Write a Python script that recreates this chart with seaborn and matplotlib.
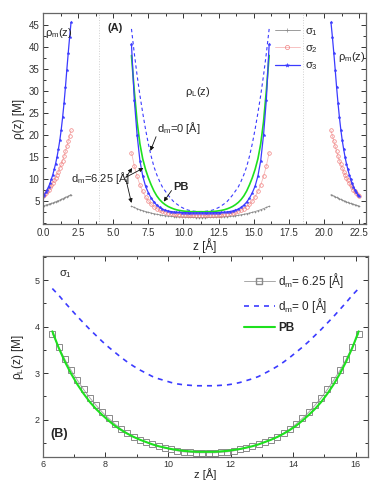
import pandas as pd
import matplotlib
matplotlib.use('Agg')
from matplotlib import pyplot as plt
from matplotlib.lines import Line2D
from matplotlib.ticker import MultipleLocator, FormatStrFormatter
import seaborn as sns

# --- data ---
# panel A: counterion densities near the walls (rho_m) and in the slit (rho_L)
z_left = [0.0, 0.1, 0.2, 0.3, 0.4, 0.5, 0.6, 0.7, 0.8, 0.9, 1.0,
          1.1, 1.2, 1.3, 1.4, 1.5, 1.6, 1.7, 1.8, 1.9, 2.0]
z_right = [20.5, 20.6, 20.7, 20.8, 20.9, 21.0, 21.1, 21.2, 21.3, 21.4, 21.5,
           21.6, 21.7, 21.8, 21.9, 22.0, 22.1, 22.2, 22.3, 22.4, 22.5]
z_slit = [6.3, 6.5, 6.7, 6.9, 7.1, 7.3, 7.5, 7.7, 7.9, 8.1,
          8.3, 8.5, 8.7, 8.9, 9.1, 9.3, 9.5, 9.7, 9.9, 10.1,
          10.3, 10.5, 10.7, 10.9, 11.1, 11.3, 11.5, 11.7, 11.9, 12.1,
          12.3, 12.5, 12.7, 12.9, 13.1, 13.3, 13.5, 13.7, 13.9, 14.1,
          14.3, 14.5, 14.7, 14.9, 15.1, 15.3, 15.5, 15.7, 15.9, 16.1]

sigma1_left = [3.9, 4.0, 4.1, 4.2, 4.3, 4.4, 4.5, 4.6, 4.7, 4.85, 5.0,
               5.1, 5.25, 5.4, 5.55, 5.7, 5.85, 6.0, 6.15, 6.3, 6.5]
sigma1_right = [6.5, 6.3, 6.15, 6.0, 5.85, 5.7, 5.55, 5.4, 5.25, 5.1, 5.0,
                4.85, 4.7, 4.6, 4.5, 4.4, 4.3, 4.2, 4.1, 4.0, 3.9]
sigma2_left = [6.1, 6.4, 6.8, 7.2, 7.6, 8.1, 8.6, 9.1, 9.7, 10.3, 11.0,
               11.7, 12.5, 13.3, 14.2, 15.2, 16.3, 17.4, 18.6, 19.8, 21.0]
sigma2_right = [21.0, 19.8, 18.6, 17.4, 16.3, 15.2, 14.2, 13.3, 12.5, 11.7, 11.0,
                10.3, 9.7, 9.1, 8.6, 8.1, 7.6, 7.2, 6.8, 6.4, 6.1]
sigma3_left = [6.1, 6.5, 7.0, 7.6, 8.3, 9.0, 10.0, 11.0, 12.2, 13.5, 15.0,
               16.8, 18.8, 21.2, 24.0, 27.2, 30.8, 34.8, 38.6, 42.2, 45.5]
sigma3_right = [45.5, 42.2, 38.6, 34.8, 30.8, 27.2, 24.0, 21.2, 18.8, 16.8, 15.0,
                13.5, 12.2, 11.0, 10.0, 9.0, 8.3, 7.6, 7.0, 6.5, 6.1]

# sigma_1 with d_m = 6.25 (also the squares of panel B)
sigma1_slit = [3.85, 3.57, 3.30, 3.06, 2.85, 2.65, 2.47, 2.31, 2.16, 2.03,
               1.91, 1.80, 1.71, 1.63, 1.57, 1.52, 1.47, 1.43, 1.39, 1.36,
               1.33, 1.31, 1.30, 1.29, 1.29, 1.29, 1.29, 1.30, 1.31, 1.33,
               1.36, 1.39, 1.43, 1.47, 1.52, 1.57, 1.63, 1.71, 1.80, 1.91,
               2.03, 2.16, 2.31, 2.47, 2.65, 2.85, 3.06, 3.30, 3.57, 3.85]
sigma2_slit = [16.0, 13.0, 10.6, 8.7, 7.2, 6.0, 5.0, 4.3, 3.75, 3.3,
               2.95, 2.7, 2.5, 2.35, 2.22, 2.12, 2.04, 1.97, 1.92, 1.88,
               1.85, 1.83, 1.81, 1.8, 1.8, 1.8, 1.8, 1.81, 1.83, 1.85,
               1.88, 1.92, 1.97, 2.04, 2.12, 2.22, 2.35, 2.5, 2.7, 2.95,
               3.3, 3.75, 4.3, 5.0, 6.0, 7.2, 8.7, 10.6, 13.0, 16.0]
sigma3_slit = [40.5, 28.0, 20.0, 14.2, 10.7, 8.4, 6.9, 5.7, 4.8, 4.1,
               3.6, 3.2, 2.95, 2.78, 2.65, 2.56, 2.5, 2.45, 2.42, 2.4,
               2.38, 2.36, 2.35, 2.35, 2.35, 2.35, 2.35, 2.35, 2.36, 2.38,
               2.4, 2.42, 2.45, 2.5, 2.56, 2.65, 2.78, 2.95, 3.2, 3.6,
               4.1, 4.8, 5.7, 6.9, 8.4, 10.7, 14.2, 20.0, 28.0, 40.5]
dm0_sigma3_slit = [44.0, 38.5, 33.5, 29.0, 25.0, 21.3, 18.0, 15.2, 12.8, 11.0,
                   9.5, 8.2, 7.3, 6.4, 5.6, 4.9, 4.4, 3.95, 3.55, 3.25,
                   3.0, 2.85, 2.75, 2.68, 2.65, 2.65, 2.68, 2.75, 2.85, 3.0,
                   3.25, 3.55, 3.95, 4.4, 4.9, 5.6, 6.4, 7.3, 8.2, 9.5,
                   11.0, 12.8, 15.2, 18.0, 21.3, 25.0, 29.0, 33.5, 38.5, 44.0]
pb_sigma3_slit = [38.0, 30.0, 23.0, 18.0, 14.6, 12.2, 10.3, 8.7, 7.3, 6.2,
                  5.35, 4.7, 4.2, 3.8, 3.5, 3.25, 3.05, 2.9, 2.8, 2.72,
                  2.66, 2.62, 2.6, 2.6, 2.6, 2.6, 2.6, 2.6, 2.62, 2.66,
                  2.72, 2.8, 2.9, 3.05, 3.25, 3.5, 3.8, 4.2, 4.7, 5.35,
                  6.2, 7.3, 8.7, 10.3, 12.2, 14.6, 18.0, 23.0, 30.0, 38.0]

# panel B: sigma_1 only
dm0_sigma1_slit = [4.82, 4.68, 4.52, 4.37, 4.22, 4.08, 3.94, 3.81, 3.68, 3.56,
                   3.45, 3.34, 3.24, 3.15, 3.07, 3.0, 2.93, 2.88, 2.84, 2.80,
                   2.77, 2.75, 2.74, 2.73, 2.73, 2.73, 2.73, 2.74, 2.75, 2.77,
                   2.80, 2.84, 2.88, 2.93, 3.0, 3.07, 3.15, 3.24, 3.34, 3.45,
                   3.56, 3.68, 3.81, 3.94, 4.08, 4.22, 4.37, 4.52, 4.68, 4.82]
pb_sigma1_slit = [3.9, 3.55, 3.25, 2.99, 2.76, 2.56, 2.38, 2.23, 2.10, 1.98,
                  1.87, 1.78, 1.70, 1.63, 1.57, 1.52, 1.47, 1.43, 1.40, 1.37,
                  1.35, 1.33, 1.32, 1.31, 1.31, 1.31, 1.31, 1.32, 1.33, 1.35,
                  1.37, 1.40, 1.43, 1.47, 1.52, 1.57, 1.63, 1.70, 1.78, 1.87,
                  1.98, 2.10, 2.23, 2.38, 2.56, 2.76, 2.99, 3.25, 3.55, 3.9]

wall_positions = [4.0, 18.5]

GRAY = '#8c8c8c'
PINK = '#f08080'
BLUE = '#3b3bff'
GREEN = '#1ee01e'

sns.set_style('ticks')
plt.rcParams['font.family'] = ['Liberation Sans', 'DejaVu Sans']
plt.rcParams['mathtext.fontset'] = 'custom'
plt.rcParams['mathtext.rm'] = 'Liberation Sans'
plt.rcParams['mathtext.it'] = 'Liberation Sans:italic'
plt.rcParams['mathtext.bf'] = 'Liberation Sans:bold'


def wall_frame(left, slit, right):
    return pd.DataFrame({
        'z': z_left + z_slit + z_right,
        'rho': left + slit + right,
        'seg': [0] * len(z_left) + [1] * len(z_slit) + [2] * len(z_right),
    })


def style_axes(ax, labelsize=7):
    ax.tick_params(which='both', direction='in', top=True, right=True,
                   labelsize=labelsize, colors='#333333', width=0.7, pad=2.5)
    ax.tick_params(which='major', length=3.5)
    ax.tick_params(which='minor', length=2)
    for spine in ax.spines.values():
        spine.set_color('#666666')
        spine.set_linewidth(0.9)
        spine.set_visible(True)


fig = plt.figure(figsize=(3.87, 4.83), dpi=100)

# ---------------- panel A ----------------
ax = fig.add_axes([0.111, 0.536, 0.835, 0.437])
for zw in wall_positions:
    ax.axvline(zw, color='#d0d0d0', ls=':', lw=0.7)

sns.lineplot(data=wall_frame(sigma1_left, sigma1_slit, sigma1_right), x='z', y='rho',
             units='seg', estimator=None, sort=False, ax=ax, legend=False,
             color=GRAY, lw=0.6, marker='+', ms=2, mec=GRAY, mew=0.4)
sns.lineplot(data=wall_frame(sigma2_left, sigma2_slit, sigma2_right), x='z', y='rho',
             units='seg', estimator=None, sort=False, ax=ax, legend=False,
             color='#f6b8b8', lw=0.6, marker='o', ms=2.6, mfc='none', mec=PINK, mew=0.5)
sns.lineplot(x=z_slit, y=dm0_sigma3_slit, ax=ax, color=BLUE, lw=0.8,
             linestyle=(0, (3, 2.5)), legend=False)
sns.lineplot(x=z_slit, y=pb_sigma3_slit, ax=ax, color=GREEN, lw=1.2, legend=False)
sns.lineplot(data=wall_frame(sigma3_left, sigma3_slit, sigma3_right), x='z', y='rho',
             units='seg', estimator=None, sort=False, ax=ax, legend=False,
             color=BLUE, lw=0.9, marker='*', ms=2.2, mec=BLUE, mew=0.3)

ax.set_xlim(0, 23.0)
ax.set_ylim(-0.2, 47.6)
ax.xaxis.set_major_locator(MultipleLocator(2.5))
ax.xaxis.set_minor_locator(MultipleLocator(1.25))
ax.yaxis.set_minor_locator(MultipleLocator(2.5))
ax.set_yticks([5, 10, 15, 20, 25, 30, 35, 40, 45])
ax.xaxis.set_major_formatter(FormatStrFormatter('%.1f'))
style_axes(ax)
ax.set_xlabel('z [Å]', fontsize=8.5, labelpad=0)
ax.set_ylabel('ρ(z) [M]', fontsize=8.5, labelpad=3)

ax.text(0.15, 43, r'ρ$_\mathrm{m}$(z)', fontsize=8, ha='left', va='center')
ax.text(21.0, 37.6, r'ρ$_\mathrm{m}$(z)', fontsize=8, ha='left', va='center')
ax.text(10.1, 29.7, r'ρ$_\mathrm{L}$(z)', fontsize=8, ha='left', va='center')
ax.text(4.6, 44.2, '(A)', fontsize=8, fontweight='bold', ha='left', va='center')
ax.text(8.1, 21.5, r'd$_\mathrm{m}$=0 [Å]', fontsize=8, ha='left', va='center')
ax.text(2.0, 10.2, r'd$_\mathrm{m}$=6.25 [Å]', fontsize=8, ha='left', va='center')
ax.text(9.3, 8.3, 'PB', fontsize=8, fontweight='bold', ha='left', va='center')

arrow = dict(arrowstyle='-|>', color='#111111', lw=0.6, mutation_scale=6,
             shrinkA=0, shrinkB=0)
ax.annotate('', xy=(7.65, 16.4), xytext=(8.05, 19.6), arrowprops=arrow)
ax.annotate('', xy=(6.35, 12.5), xytext=(5.9, 10.4), arrowprops=arrow)
ax.annotate('', xy=(7.15, 12.5), xytext=(5.9, 10.4), arrowprops=arrow)
ax.annotate('', xy=(6.3, 4.6), xytext=(5.9, 10.0), arrowprops=arrow)
ax.annotate('', xy=(8.6, 4.9), xytext=(9.15, 7.4), arrowprops=arrow)

handles_a = [
    Line2D([], [], color=GRAY, lw=0.6, marker='+', ms=2.5, mew=0.5),
    Line2D([], [], color='#f6b8b8', lw=0.6, marker='o', ms=3, mfc='none', mec=PINK, mew=0.5),
    Line2D([], [], color=BLUE, lw=0.9, marker='*', ms=3, mec=BLUE, mew=0.3),
]
ax.legend(handles_a, [r'σ$_1$', r'σ$_2$', r'σ$_3$'], loc='upper left',
          bbox_to_anchor=(0.70, 0.965), frameon=False, fontsize=8,
          borderpad=0, handlelength=2.3, handletextpad=0.4, labelspacing=0.5,
          numpoints=1)

# ---------------- panel B ----------------
bx = fig.add_axes([0.111, 0.054, 0.840, 0.416])
sns.lineplot(x=z_slit, y=sigma1_slit, ax=bx, color='#a8a8a8', lw=0.7,
             marker='s', ms=4, mfc='none', mec='#8a8a8a', mew=0.7, legend=False)
sns.lineplot(x=z_slit, y=dm0_sigma1_slit, ax=bx, color=BLUE, lw=1.2,
             linestyle=(0, (3, 3)), legend=False)
sns.lineplot(x=z_slit, y=pb_sigma1_slit, ax=bx, color=GREEN, lw=1.5, legend=False)

bx.set_xlim(6.0, 16.4)
bx.set_ylim(1.2, 5.52)
bx.xaxis.set_major_locator(MultipleLocator(2))
bx.xaxis.set_minor_locator(MultipleLocator(1))
bx.yaxis.set_major_locator(MultipleLocator(1))
bx.yaxis.set_minor_locator(MultipleLocator(0.5))
style_axes(bx, labelsize=6.5)
bx.set_xlabel('z [Å]', fontsize=8, labelpad=-1)
bx.set_ylabel(r'ρ$_\mathrm{L}$(z) [M]', fontsize=8.5, labelpad=6)

bx.text(6.5, 5.12, r'σ$_1$', fontsize=8, ha='left', va='center')
bx.text(6.25, 1.7, '(B)', fontsize=9, fontweight='bold', ha='left', va='center')

handles_b = [
    Line2D([], [], color='#a8a8a8', lw=0.7, marker='s', ms=4, mfc='none', mec='#8a8a8a'),
    Line2D([], [], color=BLUE, lw=1.2, linestyle=(0, (3, 3))),
    Line2D([], [], color=GREEN, lw=1.5),
]
leg = bx.legend(handles_b, [r'd$_\mathrm{m}$= 6.25 [Å]', r'd$_\mathrm{m}$= 0 [Å]', 'PB'],
                loc='upper left', bbox_to_anchor=(0.6, 0.955), frameon=False,
                fontsize=8.5, borderpad=0, handlelength=2.6, handletextpad=0.3,
                labelspacing=0.55, numpoints=1)
leg.get_texts()[2].set_fontweight('bold')

fig.savefig('out.png', dpi=100)
